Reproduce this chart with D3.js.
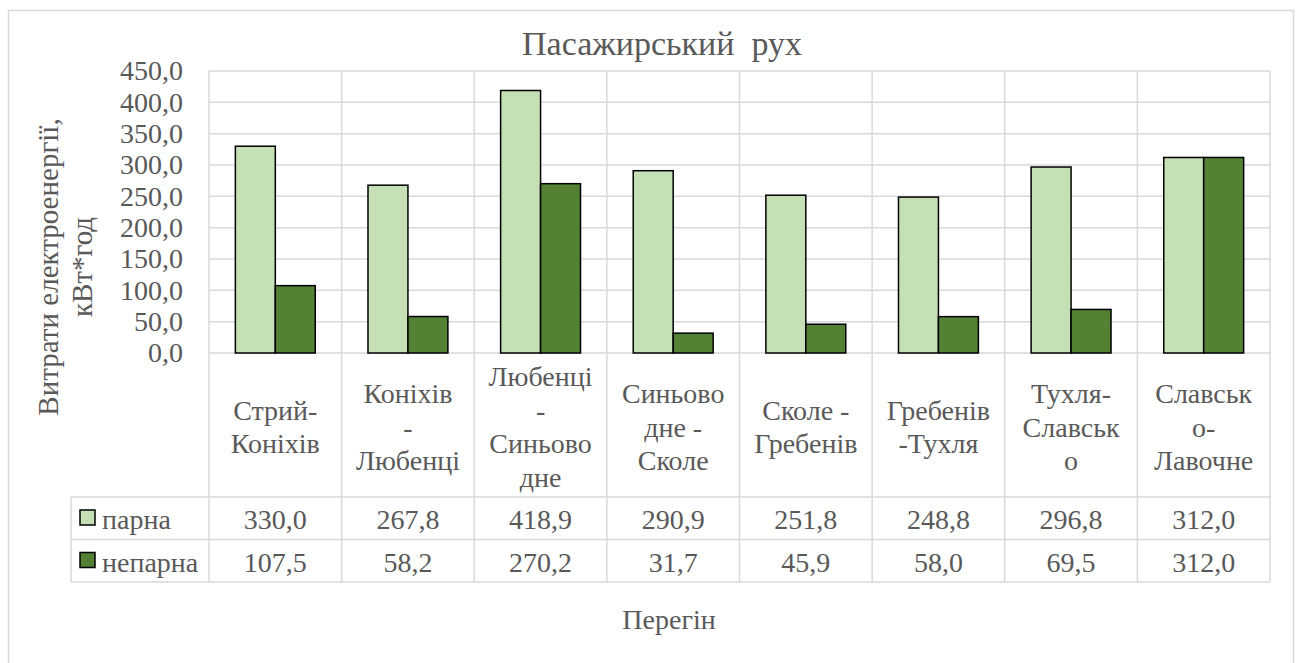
<!DOCTYPE html>
<html>
<head>
<meta charset="utf-8">
<script src="https://cdn.jsdelivr.net/npm/d3@7"></script>
<style>
  body { margin: 0; background: #fff; }
  svg text { font-family: "Liberation Serif", "Times New Roman", "DejaVu Serif", serif; fill: #595959; }
</style>
</head>
<body>
<script>
// data
var categories = [
    ["Стрий-", "Коніхів"],
    ["Коніхів", "-", "Любенці"],
    ["Любенці", "-", "Синьово", "дне"],
    ["Синьово", "дне -", "Сколе"],
    ["Сколе -", "Гребенів"],
    ["Гребенів", "-Тухля"],
    ["Тухля-", "Славськ", "о"],
    ["Славськ", "о-", "Лавочне"]
];
var seriesNames = ["парна", "непарна"];
var parna = [330.0, 267.8, 418.9, 290.9, 251.8, 248.8, 296.8, 312.0];
var neparna = [107.5, 58.2, 270.2, 31.7, 45.9, 58.0, 69.5, 312.0];
var yTicks = [0, 50, 100, 150, 200, 250, 300, 350, 400, 450];
var colors = ["#C5E0B4", "#548235"];

var svgWidth = 1304, svgHeight = 663;
var plotLeft = 209, plotRight = 1270, plotTop = 71, plotBottom = 353;
var tableTop = 497, rowH = 42.5, legendLeft = 71;
var fontSize = 28;

function fmt(v) { return v.toFixed(1).replace(".", ","); }

function drawChart() {
    var svg = d3.select("body").append("svg")
        .attr("width", svgWidth)
        .attr("height", svgHeight);

    // outer chart border
    svg.append("rect")
        .attr("x", 8.5).attr("y", 10.5)
        .attr("width", 1285).attr("height", 700)
        .attr("fill", "none").attr("stroke", "#D9D9D9").attr("stroke-width", 1.5);

    var x0 = d3.scaleBand()
        .domain(d3.range(categories.length))
        .range([plotLeft, plotRight])
        .padding(0);

    var x1 = d3.scaleBand()
        .domain(seriesNames)
        .range([0, x0.bandwidth()])
        .paddingInner(0)
        .paddingOuter(0.66);

    var y = d3.scaleLinear()
        .domain([0, 450])
        .range([plotBottom, plotTop]);

    var tableBottom = tableTop + rowH * 2;

    // horizontal gridlines
    svg.append("g").selectAll("line")
        .data(yTicks)
        .enter().append("line")
        .attr("x1", plotLeft).attr("x2", plotRight)
        .attr("y1", function(d) { return y(d); })
        .attr("y2", function(d) { return y(d); })
        .attr("stroke", "#D9D9D9").attr("stroke-width", 1.5);

    // vertical lines (category boundaries through the table)
    var bounds = d3.range(categories.length + 1).map(function(i) {
        return plotLeft + i * x0.step();
    });
    svg.append("g").selectAll("line")
        .data(bounds)
        .enter().append("line")
        .attr("x1", function(d) { return d; })
        .attr("x2", function(d) { return d; })
        .attr("y1", plotTop).attr("y2", tableBottom)
        .attr("stroke", "#D9D9D9").attr("stroke-width", 1.5);

    // table rows
    [tableTop, tableTop + rowH, tableBottom].forEach(function(yy) {
        svg.append("line")
            .attr("x1", legendLeft).attr("x2", plotRight)
            .attr("y1", yy).attr("y2", yy)
            .attr("stroke", "#D9D9D9").attr("stroke-width", 1.5);
    });
    svg.append("line")
        .attr("x1", legendLeft).attr("x2", legendLeft)
        .attr("y1", tableTop).attr("y2", tableBottom)
        .attr("stroke", "#D9D9D9").attr("stroke-width", 1.5);

    // y axis labels
    var yAxis = d3.axisLeft(y)
        .tickValues(yTicks)
        .tickFormat(fmt)
        .tickSize(0)
        .tickPadding(26);
    var ag = svg.append("g")
        .attr("transform", "translate(" + plotLeft + ",0)")
        .call(yAxis);
    ag.attr("font-family", null).attr("font-size", null);
    ag.select(".domain").remove();
    ag.selectAll("text")
        .style("font-size", fontSize + "px")
        .attr("fill", "#595959");

    // bars
    var series = [parna, neparna];
    var groups = svg.append("g").selectAll("g")
        .data(series)
        .enter().append("g")
        .attr("fill", function(d, i) { return colors[i]; });

    groups.selectAll("rect")
        .data(function(d, i) { return d.map(function(v) { return { v: v, s: seriesNames[i] }; }); })
        .enter().append("rect")
        .attr("x", function(d, i) { return x0(i) + x1(d.s); })
        .attr("y", function(d) { return y(d.v); })
        .attr("width", x1.bandwidth())
        .attr("height", function(d) { return y(0) - y(d.v); })
        .attr("stroke", "#000")
        .attr("stroke-width", 1.5);

    // category labels
    var lineH = 33.5, labelCenter = 427;
    categories.forEach(function(lines, i) {
        var t = svg.append("text")
            .attr("text-anchor", "middle")
            .style("font-size", fontSize + "px");
        lines.forEach(function(l, j) {
            t.append("tspan")
                .attr("x", x0(i) + x0.bandwidth() / 2)
                .attr("y", labelCenter + (j - (lines.length - 1) / 2) * lineH + 9.5)
                .text(l);
        });
    });

    // table values + legend keys
    series.forEach(function(vals, s) {
        var rowY = tableTop + rowH * s;
        svg.append("rect")
            .attr("x", 80).attr("y", rowY + 13)
            .attr("width", 15).attr("height", 15)
            .attr("fill", colors[s])
            .attr("stroke", "#000").attr("stroke-width", 1.5);
        svg.append("text")
            .attr("x", 102).attr("y", rowY + 32)
            .style("font-size", fontSize + "px")
            .text(seriesNames[s]);
        vals.forEach(function(v, i) {
            svg.append("text")
                .attr("x", x0(i) + x0.bandwidth() / 2)
                .attr("y", rowY + 32)
                .attr("text-anchor", "middle")
                .style("font-size", fontSize + "px")
                .text(fmt(v));
        });
    });

    // title
    svg.append("text")
        .attr("x", 662).attr("y", 55)
        .attr("text-anchor", "middle")
        .style("font-size", "34px")
        .style("white-space", "pre")
        .text("Пасажирський  рух");

    // y axis title
    svg.append("text")
        .attr("transform", "translate(58,267) rotate(-90)")
        .attr("text-anchor", "middle")
        .style("font-size", "29px")
        .text("Витрати електроенергії,");
    svg.append("text")
        .attr("transform", "translate(92,267) rotate(-90)")
        .attr("text-anchor", "middle")
        .style("font-size", "29px")
        .text("кВт*год");

    // x axis title
    svg.append("text")
        .attr("x", 669).attr("y", 629)
        .attr("text-anchor", "middle")
        .style("font-size", fontSize + "px")
        .text("Перегін");
}

window.onload = function() {
    drawChart();
};
</script>
</body>
</html>
